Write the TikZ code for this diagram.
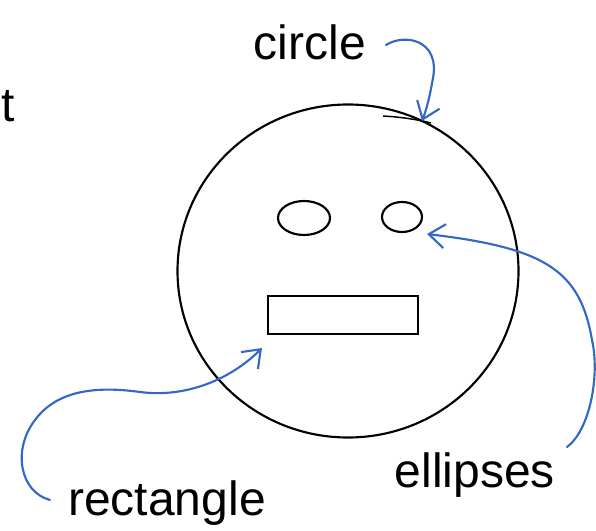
\documentclass[tikz,border=0pt]{standalone}
\usepackage{fontspec}
\setmainfont{Liberation Sans}
\usetikzlibrary{shapes.geometric,arrows.meta}
\definecolor{penblue}{RGB}{52,104,196}
\begin{document}
\begin{tikzpicture}[x=0.75pt,y=-0.75pt,
  ink/.style={draw=black,line width=1.6pt},
  bluepen/.style={draw=penblue,line width=1.6pt,line cap=round,
    -{Straight Barb[length=12pt,width=18pt,line width=1.6pt]}},
  lbl/.style={font=\fontsize{36}{40}\selectfont,inner sep=0pt,anchor=base},
  figshape/.style={ink,inner sep=0pt,outer sep=0pt}]
\useasboundingbox (0,0) rectangle (596,531);
% face
\node[figshape,ellipse,minimum width=255.75pt,minimum height=249.75pt] (face) at (348,271) {};
\draw[draw=black,line width=1.1pt] (383,116) .. controls (400,117) and (415,119) .. (431,123);
\node[figshape,ellipse,minimum width=39pt,minimum height=25.5pt] (lefteye) at (304,218) {};
\node[figshape,ellipse,minimum width=30pt,minimum height=22.5pt] (righteye) at (402,217) {};
\node[figshape,rectangle,minimum width=112.5pt,minimum height=28.5pt] (mouth) at (343,315) {};
% labels
\node[lbl] (clabel) at (310,60) {circle};
\node[lbl] (elabel) at (475,487) {ellipses};
\node[lbl] (rlabel) at (167,515) {rectangle};
\node[lbl,anchor=base west] (tcut) at (1,122) {t};
% arrow tips
\coordinate (ctip) at (422,121);
\coordinate (etip) at (427,234);
\coordinate (rtip) at (262,348);
\coordinate (cstart) at (386,45);
\coordinate (estart) at (567,447);
\coordinate (rstart) at (50,500);
% connectors
\draw[bluepen] (cstart) .. controls (405,33) and (440,40) .. (433,78)
  .. controls (430,95) and (427,108) .. (ctip);
\draw[bluepen] (estart) .. controls (590,430) and (600,375) .. (592,340)
  .. controls (580,270) and (545,248) .. (etip);
\draw[bluepen] (rstart) .. controls (20,492) and (12,450) .. (35,420)
  .. controls (55,393) and (90,385) .. (140,392)
  .. controls (185,398) and (230,380) .. (rtip);
\end{tikzpicture}
\end{document}
